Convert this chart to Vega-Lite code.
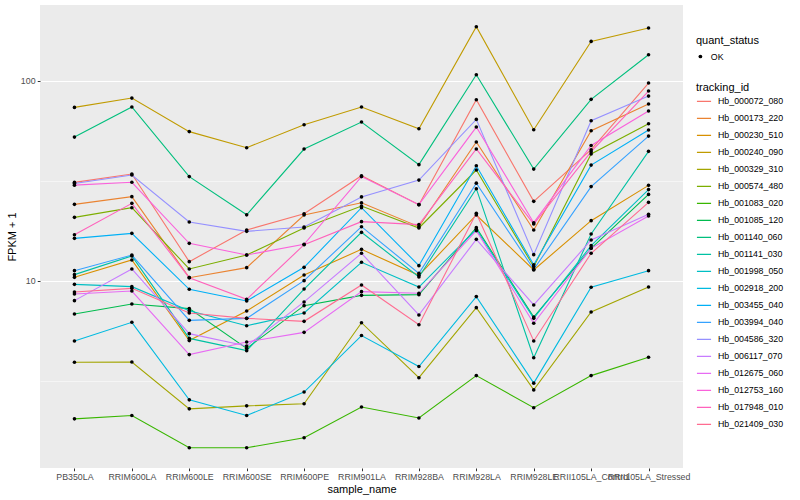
{
"$schema": "https://vega.github.io/schema/vega-lite/v6.json",
"width": 643,
"height": 463,
"autosize": {"type": "none"},
"padding": {"left": 40, "top": 5, "right": 117, "bottom": 32},
"background": "white",
"config": {
  "font": "Liberation Sans",
  "view": {"fill": "#EBEBEB", "stroke": null},
  "axis": {"domain": false, "tickColor": "#333333", "tickSize": 2.75, "labelPadding": 2.2, "labelFontSize": 8.8, "labelColor": "#4D4D4D", "titleFontSize": 11, "titleFontWeight": "normal", "titleColor": "black", "gridColor": "white"},
  "legend": {"titleFontSize": 11, "titleFontWeight": "normal", "titleColor": "black", "labelFontSize": 8.8, "labelColor": "black", "padding": 0, "rowPadding": 0, "clipHeight": 16.8, "titlePadding": 2, "labelOffset": 6}
},
"datasets": {"fpkm": [
{"id":"Hb_000072_080","sample":"PB350LA","value":31.09,"status":"OK"},
{"id":"Hb_000072_080","sample":"RRIM600LA","value":34.2,"status":"OK"},
{"id":"Hb_000072_080","sample":"RRIM600LE","value":12.49,"status":"OK"},
{"id":"Hb_000072_080","sample":"RRIM600SE","value":17.97,"status":"OK"},
{"id":"Hb_000072_080","sample":"RRIM600PE","value":21.68,"status":"OK"},
{"id":"Hb_000072_080","sample":"RRIM901LA","value":33.55,"status":"OK"},
{"id":"Hb_000072_080","sample":"RRIM928BA","value":24.05,"status":"OK"},
{"id":"Hb_000072_080","sample":"RRIM928LA","value":80.37,"status":"OK"},
{"id":"Hb_000072_080","sample":"RRIM928LE","value":24.98,"status":"OK"},
{"id":"Hb_000072_080","sample":"RRII105LA_Control","value":45.24,"status":"OK"},
{"id":"Hb_000072_080","sample":"RRII105LA_Stressed","value":97.35,"status":"OK"},
{"id":"Hb_000173_220","sample":"PB350LA","value":24.14,"status":"OK"},
{"id":"Hb_000173_220","sample":"RRIM600LA","value":26.37,"status":"OK"},
{"id":"Hb_000173_220","sample":"RRIM600LE","value":10.39,"status":"OK"},
{"id":"Hb_000173_220","sample":"RRIM600SE","value":11.66,"status":"OK"},
{"id":"Hb_000173_220","sample":"RRIM600PE","value":21.36,"status":"OK"},
{"id":"Hb_000173_220","sample":"RRIM901LA","value":24.6,"status":"OK"},
{"id":"Hb_000173_220","sample":"RRIM928BA","value":18.67,"status":"OK"},
{"id":"Hb_000173_220","sample":"RRIM928LA","value":49.42,"status":"OK"},
{"id":"Hb_000173_220","sample":"RRIM928LE","value":17.97,"status":"OK"},
{"id":"Hb_000173_220","sample":"RRII105LA_Control","value":56.3,"status":"OK"},
{"id":"Hb_000173_220","sample":"RRII105LA_Stressed","value":76.47,"status":"OK"},
{"id":"Hb_000230_510","sample":"PB350LA","value":10.43,"status":"OK"},
{"id":"Hb_000230_510","sample":"RRIM600LA","value":12.73,"status":"OK"},
{"id":"Hb_000230_510","sample":"RRIM600LE","value":5.04,"status":"OK"},
{"id":"Hb_000230_510","sample":"RRIM600SE","value":7.08,"status":"OK"},
{"id":"Hb_000230_510","sample":"RRIM600PE","value":10.71,"status":"OK"},
{"id":"Hb_000230_510","sample":"RRIM901LA","value":14.39,"status":"OK"},
{"id":"Hb_000230_510","sample":"RRIM928BA","value":10.67,"status":"OK"},
{"id":"Hb_000230_510","sample":"RRIM928LA","value":21.36,"status":"OK"},
{"id":"Hb_000230_510","sample":"RRIM928LE","value":11.35,"status":"OK"},
{"id":"Hb_000230_510","sample":"RRII105LA_Control","value":20.01,"status":"OK"},
{"id":"Hb_000230_510","sample":"RRII105LA_Stressed","value":30.03,"status":"OK"},
{"id":"Hb_000240_090","sample":"PB350LA","value":73.6,"status":"OK"},
{"id":"Hb_000240_090","sample":"RRIM600LA","value":81.9,"status":"OK"},
{"id":"Hb_000240_090","sample":"RRIM600LE","value":55.7,"status":"OK"},
{"id":"Hb_000240_090","sample":"RRIM600SE","value":46.3,"status":"OK"},
{"id":"Hb_000240_090","sample":"RRIM600PE","value":60.3,"status":"OK"},
{"id":"Hb_000240_090","sample":"RRIM901LA","value":73.9,"status":"OK"},
{"id":"Hb_000240_090","sample":"RRIM928BA","value":57.6,"status":"OK"},
{"id":"Hb_000240_090","sample":"RRIM928LA","value":186.0,"status":"OK"},
{"id":"Hb_000240_090","sample":"RRIM928LE","value":56.9,"status":"OK"},
{"id":"Hb_000240_090","sample":"RRII105LA_Control","value":157.1,"status":"OK"},
{"id":"Hb_000240_090","sample":"RRII105LA_Stressed","value":183.2,"status":"OK"},
{"id":"Hb_000329_310","sample":"PB350LA","value":3.93,"status":"OK"},
{"id":"Hb_000329_310","sample":"RRIM600LA","value":3.94,"status":"OK"},
{"id":"Hb_000329_310","sample":"RRIM600LE","value":2.3,"status":"OK"},
{"id":"Hb_000329_310","sample":"RRIM600SE","value":2.38,"status":"OK"},
{"id":"Hb_000329_310","sample":"RRIM600PE","value":2.44,"status":"OK"},
{"id":"Hb_000329_310","sample":"RRIM901LA","value":6.19,"status":"OK"},
{"id":"Hb_000329_310","sample":"RRIM928BA","value":3.29,"status":"OK"},
{"id":"Hb_000329_310","sample":"RRIM928LA","value":7.36,"status":"OK"},
{"id":"Hb_000329_310","sample":"RRIM928LE","value":2.86,"status":"OK"},
{"id":"Hb_000329_310","sample":"RRII105LA_Control","value":7.0,"status":"OK"},
{"id":"Hb_000329_310","sample":"RRII105LA_Stressed","value":9.33,"status":"OK"},
{"id":"Hb_000574_480","sample":"PB350LA","value":20.79,"status":"OK"},
{"id":"Hb_000574_480","sample":"RRIM600LA","value":23.23,"status":"OK"},
{"id":"Hb_000574_480","sample":"RRIM600LE","value":11.48,"status":"OK"},
{"id":"Hb_000574_480","sample":"RRIM600SE","value":13.48,"status":"OK"},
{"id":"Hb_000574_480","sample":"RRIM600PE","value":18.39,"status":"OK"},
{"id":"Hb_000574_480","sample":"RRIM901LA","value":23.68,"status":"OK"},
{"id":"Hb_000574_480","sample":"RRIM928BA","value":18.39,"status":"OK"},
{"id":"Hb_000574_480","sample":"RRIM928LA","value":35.83,"status":"OK"},
{"id":"Hb_000574_480","sample":"RRIM928LE","value":11.79,"status":"OK"},
{"id":"Hb_000574_480","sample":"RRII105LA_Control","value":43.05,"status":"OK"},
{"id":"Hb_000574_480","sample":"RRII105LA_Stressed","value":61.0,"status":"OK"},
{"id":"Hb_001083_020","sample":"PB350LA","value":2.05,"status":"OK"},
{"id":"Hb_001083_020","sample":"RRIM600LA","value":2.13,"status":"OK"},
{"id":"Hb_001083_020","sample":"RRIM600LE","value":1.47,"status":"OK"},
{"id":"Hb_001083_020","sample":"RRIM600SE","value":1.47,"status":"OK"},
{"id":"Hb_001083_020","sample":"RRIM600PE","value":1.65,"status":"OK"},
{"id":"Hb_001083_020","sample":"RRIM901LA","value":2.35,"status":"OK"},
{"id":"Hb_001083_020","sample":"RRIM928BA","value":2.07,"status":"OK"},
{"id":"Hb_001083_020","sample":"RRIM928LA","value":3.37,"status":"OK"},
{"id":"Hb_001083_020","sample":"RRIM928LE","value":2.33,"status":"OK"},
{"id":"Hb_001083_020","sample":"RRII105LA_Control","value":3.37,"status":"OK"},
{"id":"Hb_001083_020","sample":"RRII105LA_Stressed","value":4.16,"status":"OK"},
{"id":"Hb_001085_120","sample":"PB350LA","value":6.84,"status":"OK"},
{"id":"Hb_001085_120","sample":"RRIM600LA","value":7.68,"status":"OK"},
{"id":"Hb_001085_120","sample":"RRIM600LE","value":7.28,"status":"OK"},
{"id":"Hb_001085_120","sample":"RRIM600SE","value":4.61,"status":"OK"},
{"id":"Hb_001085_120","sample":"RRIM600PE","value":7.53,"status":"OK"},
{"id":"Hb_001085_120","sample":"RRIM901LA","value":8.48,"status":"OK"},
{"id":"Hb_001085_120","sample":"RRIM928BA","value":8.55,"status":"OK"},
{"id":"Hb_001085_120","sample":"RRIM928LA","value":18.46,"status":"OK"},
{"id":"Hb_001085_120","sample":"RRIM928LE","value":6.61,"status":"OK"},
{"id":"Hb_001085_120","sample":"RRII105LA_Control","value":14.56,"status":"OK"},
{"id":"Hb_001085_120","sample":"RRII105LA_Stressed","value":27.07,"status":"OK"},
{"id":"Hb_001140_060","sample":"PB350LA","value":52.3,"status":"OK"},
{"id":"Hb_001140_060","sample":"RRIM600LA","value":73.9,"status":"OK"},
{"id":"Hb_001140_060","sample":"RRIM600LE","value":33.2,"status":"OK"},
{"id":"Hb_001140_060","sample":"RRIM600SE","value":21.4,"status":"OK"},
{"id":"Hb_001140_060","sample":"RRIM600PE","value":45.6,"status":"OK"},
{"id":"Hb_001140_060","sample":"RRIM901LA","value":62.2,"status":"OK"},
{"id":"Hb_001140_060","sample":"RRIM928BA","value":38.1,"status":"OK"},
{"id":"Hb_001140_060","sample":"RRIM928LA","value":107.1,"status":"OK"},
{"id":"Hb_001140_060","sample":"RRIM928LE","value":36.2,"status":"OK"},
{"id":"Hb_001140_060","sample":"RRII105LA_Control","value":80.7,"status":"OK"},
{"id":"Hb_001140_060","sample":"RRII105LA_Stressed","value":134.8,"status":"OK"},
{"id":"Hb_001141_030","sample":"PB350LA","value":10.76,"status":"OK"},
{"id":"Hb_001141_030","sample":"RRIM600LA","value":13.33,"status":"OK"},
{"id":"Hb_001141_030","sample":"RRIM600LE","value":5.17,"status":"OK"},
{"id":"Hb_001141_030","sample":"RRIM600SE","value":4.49,"status":"OK"},
{"id":"Hb_001141_030","sample":"RRIM600PE","value":9.12,"status":"OK"},
{"id":"Hb_001141_030","sample":"RRIM901LA","value":17.5,"status":"OK"},
{"id":"Hb_001141_030","sample":"RRIM928BA","value":10.47,"status":"OK"},
{"id":"Hb_001141_030","sample":"RRIM928LA","value":28.9,"status":"OK"},
{"id":"Hb_001141_030","sample":"RRIM928LE","value":4.14,"status":"OK"},
{"id":"Hb_001141_030","sample":"RRII105LA_Control","value":17.16,"status":"OK"},
{"id":"Hb_001141_030","sample":"RRII105LA_Stressed","value":44.4,"status":"OK"},
{"id":"Hb_001998_050","sample":"PB350LA","value":9.62,"status":"OK"},
{"id":"Hb_001998_050","sample":"RRIM600LA","value":9.37,"status":"OK"},
{"id":"Hb_001998_050","sample":"RRIM600LE","value":7.11,"status":"OK"},
{"id":"Hb_001998_050","sample":"RRIM600SE","value":5.98,"status":"OK"},
{"id":"Hb_001998_050","sample":"RRIM600PE","value":6.92,"status":"OK"},
{"id":"Hb_001998_050","sample":"RRIM901LA","value":12.4,"status":"OK"},
{"id":"Hb_001998_050","sample":"RRIM928BA","value":9.33,"status":"OK"},
{"id":"Hb_001998_050","sample":"RRIM928LA","value":18.11,"status":"OK"},
{"id":"Hb_001998_050","sample":"RRIM928LE","value":6.51,"status":"OK"},
{"id":"Hb_001998_050","sample":"RRII105LA_Control","value":15.01,"status":"OK"},
{"id":"Hb_001998_050","sample":"RRII105LA_Stressed","value":28.6,"status":"OK"},
{"id":"Hb_002918_200","sample":"PB350LA","value":5.02,"status":"OK"},
{"id":"Hb_002918_200","sample":"RRIM600LA","value":6.22,"status":"OK"},
{"id":"Hb_002918_200","sample":"RRIM600LE","value":2.55,"status":"OK"},
{"id":"Hb_002918_200","sample":"RRIM600SE","value":2.13,"status":"OK"},
{"id":"Hb_002918_200","sample":"RRIM600PE","value":2.79,"status":"OK"},
{"id":"Hb_002918_200","sample":"RRIM901LA","value":5.34,"status":"OK"},
{"id":"Hb_002918_200","sample":"RRIM928BA","value":3.74,"status":"OK"},
{"id":"Hb_002918_200","sample":"RRIM928LA","value":8.36,"status":"OK"},
{"id":"Hb_002918_200","sample":"RRIM928LE","value":3.09,"status":"OK"},
{"id":"Hb_002918_200","sample":"RRII105LA_Control","value":9.3,"status":"OK"},
{"id":"Hb_002918_200","sample":"RRII105LA_Stressed","value":11.26,"status":"OK"},
{"id":"Hb_003455_040","sample":"PB350LA","value":16.33,"status":"OK"},
{"id":"Hb_003455_040","sample":"RRIM600LA","value":17.29,"status":"OK"},
{"id":"Hb_003455_040","sample":"RRIM600LE","value":9.09,"status":"OK"},
{"id":"Hb_003455_040","sample":"RRIM600SE","value":7.95,"status":"OK"},
{"id":"Hb_003455_040","sample":"RRIM600PE","value":11.7,"status":"OK"},
{"id":"Hb_003455_040","sample":"RRIM901LA","value":23.23,"status":"OK"},
{"id":"Hb_003455_040","sample":"RRIM928BA","value":11.93,"status":"OK"},
{"id":"Hb_003455_040","sample":"RRIM928LA","value":37.6,"status":"OK"},
{"id":"Hb_003455_040","sample":"RRIM928LE","value":12.06,"status":"OK"},
{"id":"Hb_003455_040","sample":"RRII105LA_Control","value":37.9,"status":"OK"},
{"id":"Hb_003455_040","sample":"RRII105LA_Stressed","value":56.7,"status":"OK"},
{"id":"Hb_003994_040","sample":"PB350LA","value":11.26,"status":"OK"},
{"id":"Hb_003994_040","sample":"RRIM600LA","value":13.48,"status":"OK"},
{"id":"Hb_003994_040","sample":"RRIM600LE","value":6.36,"status":"OK"},
{"id":"Hb_003994_040","sample":"RRIM600SE","value":6.51,"status":"OK"},
{"id":"Hb_003994_040","sample":"RRIM600PE","value":10.04,"status":"OK"},
{"id":"Hb_003994_040","sample":"RRIM901LA","value":18.67,"status":"OK"},
{"id":"Hb_003994_040","sample":"RRIM928BA","value":10.92,"status":"OK"},
{"id":"Hb_003994_040","sample":"RRIM928LA","value":30.8,"status":"OK"},
{"id":"Hb_003994_040","sample":"RRIM928LE","value":11.44,"status":"OK"},
{"id":"Hb_003994_040","sample":"RRII105LA_Control","value":29.6,"status":"OK"},
{"id":"Hb_003994_040","sample":"RRII105LA_Stressed","value":52.9,"status":"OK"},
{"id":"Hb_004586_320","sample":"PB350LA","value":30.7,"status":"OK"},
{"id":"Hb_004586_320","sample":"RRIM600LA","value":33.8,"status":"OK"},
{"id":"Hb_004586_320","sample":"RRIM600LE","value":19.7,"status":"OK"},
{"id":"Hb_004586_320","sample":"RRIM600SE","value":17.7,"status":"OK"},
{"id":"Hb_004586_320","sample":"RRIM600PE","value":18.6,"status":"OK"},
{"id":"Hb_004586_320","sample":"RRIM901LA","value":26.3,"status":"OK"},
{"id":"Hb_004586_320","sample":"RRIM928BA","value":31.9,"status":"OK"},
{"id":"Hb_004586_320","sample":"RRIM928LA","value":64.1,"status":"OK"},
{"id":"Hb_004586_320","sample":"RRIM928LE","value":13.54,"status":"OK"},
{"id":"Hb_004586_320","sample":"RRII105LA_Control","value":63.1,"status":"OK"},
{"id":"Hb_004586_320","sample":"RRII105LA_Stressed","value":83.8,"status":"OK"},
{"id":"Hb_006117_070","sample":"PB350LA","value":7.98,"status":"OK"},
{"id":"Hb_006117_070","sample":"RRIM600LA","value":11.48,"status":"OK"},
{"id":"Hb_006117_070","sample":"RRIM600LE","value":5.46,"status":"OK"},
{"id":"Hb_006117_070","sample":"RRIM600SE","value":4.74,"status":"OK"},
{"id":"Hb_006117_070","sample":"RRIM600PE","value":7.86,"status":"OK"},
{"id":"Hb_006117_070","sample":"RRIM901LA","value":13.75,"status":"OK"},
{"id":"Hb_006117_070","sample":"RRIM928BA","value":6.77,"status":"OK"},
{"id":"Hb_006117_070","sample":"RRIM928LA","value":16.14,"status":"OK"},
{"id":"Hb_006117_070","sample":"RRIM928LE","value":7.59,"status":"OK"},
{"id":"Hb_006117_070","sample":"RRII105LA_Control","value":16.02,"status":"OK"},
{"id":"Hb_006117_070","sample":"RRII105LA_Stressed","value":21.52,"status":"OK"},
{"id":"Hb_012675_060","sample":"PB350LA","value":8.61,"status":"OK"},
{"id":"Hb_012675_060","sample":"RRIM600LA","value":8.91,"status":"OK"},
{"id":"Hb_012675_060","sample":"RRIM600LE","value":4.29,"status":"OK"},
{"id":"Hb_012675_060","sample":"RRIM600SE","value":4.96,"status":"OK"},
{"id":"Hb_012675_060","sample":"RRIM600PE","value":5.54,"status":"OK"},
{"id":"Hb_012675_060","sample":"RRIM901LA","value":8.85,"status":"OK"},
{"id":"Hb_012675_060","sample":"RRIM928BA","value":8.68,"status":"OK"},
{"id":"Hb_012675_060","sample":"RRIM928LA","value":17.83,"status":"OK"},
{"id":"Hb_012675_060","sample":"RRIM928LE","value":6.15,"status":"OK"},
{"id":"Hb_012675_060","sample":"RRII105LA_Control","value":14.56,"status":"OK"},
{"id":"Hb_012675_060","sample":"RRII105LA_Stressed","value":21.11,"status":"OK"},
{"id":"Hb_012753_160","sample":"PB350LA","value":30.1,"status":"OK"},
{"id":"Hb_012753_160","sample":"RRIM600LA","value":31.1,"status":"OK"},
{"id":"Hb_012753_160","sample":"RRIM600LE","value":15.42,"status":"OK"},
{"id":"Hb_012753_160","sample":"RRIM600SE","value":13.48,"status":"OK"},
{"id":"Hb_012753_160","sample":"RRIM600PE","value":15.24,"status":"OK"},
{"id":"Hb_012753_160","sample":"RRIM901LA","value":33.2,"status":"OK"},
{"id":"Hb_012753_160","sample":"RRIM928BA","value":24.05,"status":"OK"},
{"id":"Hb_012753_160","sample":"RRIM928LA","value":58.7,"status":"OK"},
{"id":"Hb_012753_160","sample":"RRIM928LE","value":19.55,"status":"OK"},
{"id":"Hb_012753_160","sample":"RRII105LA_Control","value":47.5,"status":"OK"},
{"id":"Hb_012753_160","sample":"RRII105LA_Stressed","value":70.6,"status":"OK"},
{"id":"Hb_017948_010","sample":"PB350LA","value":17.03,"status":"OK"},
{"id":"Hb_017948_010","sample":"RRIM600LA","value":24.42,"status":"OK"},
{"id":"Hb_017948_010","sample":"RRIM600LE","value":10.39,"status":"OK"},
{"id":"Hb_017948_010","sample":"RRIM600SE","value":8.1,"status":"OK"},
{"id":"Hb_017948_010","sample":"RRIM600PE","value":15.18,"status":"OK"},
{"id":"Hb_017948_010","sample":"RRIM901LA","value":19.78,"status":"OK"},
{"id":"Hb_017948_010","sample":"RRIM928BA","value":19.11,"status":"OK"},
{"id":"Hb_017948_010","sample":"RRIM928LA","value":45.6,"status":"OK"},
{"id":"Hb_017948_010","sample":"RRIM928LE","value":19.25,"status":"OK"},
{"id":"Hb_017948_010","sample":"RRII105LA_Control","value":44.2,"status":"OK"},
{"id":"Hb_017948_010","sample":"RRII105LA_Stressed","value":88.8,"status":"OK"},
{"id":"Hb_021409_030","sample":"PB350LA","value":8.81,"status":"OK"},
{"id":"Hb_021409_030","sample":"RRIM600LA","value":9.19,"status":"OK"},
{"id":"Hb_021409_030","sample":"RRIM600LE","value":6.92,"status":"OK"},
{"id":"Hb_021409_030","sample":"RRIM600SE","value":6.51,"status":"OK"},
{"id":"Hb_021409_030","sample":"RRIM600PE","value":6.29,"status":"OK"},
{"id":"Hb_021409_030","sample":"RRIM901LA","value":9.55,"status":"OK"},
{"id":"Hb_021409_030","sample":"RRIM928BA","value":6.05,"status":"OK"},
{"id":"Hb_021409_030","sample":"RRIM928LA","value":21.76,"status":"OK"},
{"id":"Hb_021409_030","sample":"RRIM928LE","value":5.02,"status":"OK"},
{"id":"Hb_021409_030","sample":"RRII105LA_Control","value":13.75,"status":"OK"},
{"id":"Hb_021409_030","sample":"RRII105LA_Stressed","value":24.7,"status":"OK"}
]},
"data": {"name": "fpkm"},
"encoding": {
  "x": {"field": "sample", "type": "nominal",
    "sort": ["PB350LA","RRIM600LA","RRIM600LE","RRIM600SE","RRIM600PE","RRIM901LA","RRIM928BA","RRIM928LA","RRIM928LE","RRII105LA_Control","RRII105LA_Stressed"],
    "scale": {"type": "point", "padding": 0.6},
    "axis": {"title": "sample_name", "labelAngle": 0, "labelOverlap": false, "gridWidth": 1.07, "titlePadding": 2}},
  "y": {"field": "value", "type": "quantitative",
    "scale": {"type": "log", "domain": [1.165, 238.8], "nice": false, "zero": false},
    "axis": {"title": "FPKM + 1", "values": [3.1623, 10, 31.623, 100],
      "labelExpr": "datum.value == 10 || datum.value == 100 ? format(datum.value, 'd') : ''",
      "gridWidth": {"condition": {"test": "datum.value == 10 || datum.value == 100", "value": 1.07}, "value": 0.53},
      "tickOpacity": {"condition": {"test": "datum.value == 10 || datum.value == 100", "value": 1}, "value": 0},
      "titlePadding": 3}}
},
"layer": [
  {"mark": {"type": "line", "strokeWidth": 1.1},
   "encoding": {
     "order": {"value": null},
     "color": {"field": "id", "type": "nominal",
       "scale": {"domain": ["Hb_000072_080","Hb_000173_220","Hb_000230_510","Hb_000240_090","Hb_000329_310","Hb_000574_480","Hb_001083_020","Hb_001085_120","Hb_001140_060","Hb_001141_030","Hb_001998_050","Hb_002918_200","Hb_003455_040","Hb_003994_040","Hb_004586_320","Hb_006117_070","Hb_012675_060","Hb_012753_160","Hb_017948_010","Hb_021409_030"],
         "range": ["#F8766D","#EA8331","#D89000","#C09B00","#A3A500","#7CAE00","#39B600","#00BB4E","#00BF7D","#00C1A3","#00BFC4","#00BAE0","#00B0F6","#35A2FF","#9590FF","#C77CFF","#E76BF3","#FA62DB","#FF62BC","#FF6C91"]},
       "legend": {"title": "tracking_id", "orient": "none", "legendX": 656, "legendY": 77, "symbolType": "stroke", "symbolStrokeWidth": 1.1, "symbolSize": 200, "titlePadding": 0}}
   }},
  {"mark": {"type": "point", "filled": true, "size": 13, "opacity": 1, "color": "black"},
   "encoding": {
     "shape": {"field": "status", "type": "nominal", "scale": {"domain": ["OK"], "range": ["circle"]},
       "legend": {"title": "quant_status", "orient": "none", "legendX": 656, "legendY": 30, "symbolFillColor": "black", "symbolStrokeColor": "black", "symbolSize": 14, "clipHeight": 17}}
   }}
]
}
